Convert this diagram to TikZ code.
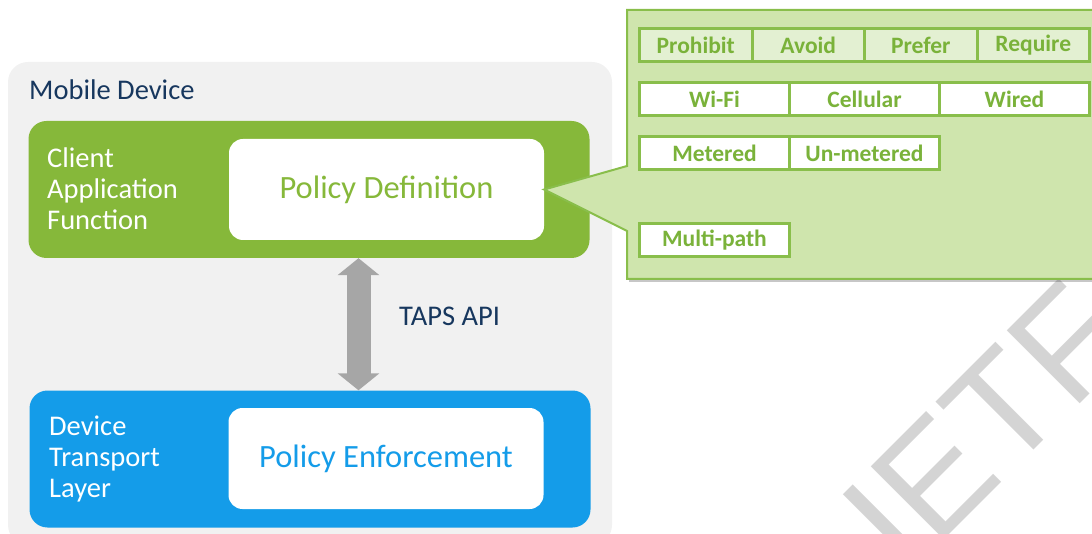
\documentclass[tikz,border=0pt]{standalone}
\usepackage{fontspec}
\usepackage{xcolor}
\usepackage{tikz}
\setmainfont{Carlito}
\newfontfamily\wmfont{Liberation Sans}
\usetikzlibrary{positioning,calc,arrows.meta}

\definecolor{bggray}{RGB}{241,241,241}
\definecolor{navy}{RGB}{23,55,94}
\definecolor{appgreen}{RGB}{134,184,58}
\definecolor{tpblue}{RGB}{20,156,233}
\definecolor{calloutfill}{RGB}{207,229,173}
\definecolor{calloutline}{RGB}{137,190,75}
\definecolor{cellfill}{RGB}{227,240,210}
\definecolor{celltext}{RGB}{122,178,58}
\definecolor{arrowgray}{RGB}{166,166,166}
\definecolor{wmgray}{RGB}{212,212,212}

\begin{document}
\begin{tikzpicture}[x=1pt,y=-1pt,
    layerbox/.style={rounded corners=18, minimum width=561, minimum height=137, inner sep=0},
    policybox/.style={fill=white, rounded corners=14, minimum width=315, minimum height=101, inner sep=0,
      font=\fontsize{32.5}{36}\selectfont},
    sidelabel/.style={anchor=west, align=left, text=white, inner sep=0,
      font=\fontsize{28.5}{31}\selectfont},
    cell/.style={draw=calloutline, line width=3, fill=white, minimum height=33, inner sep=0, outer sep=0,
      text=celltext, font=\fontsize{23.5}{26}\selectfont\bfseries},
    apiarrow/.style={draw=arrowgray, line width=24,
      {Triangle[width=41pt,length=17pt]}-{Triangle[width=41pt,length=17pt]}}]
  \clip (0,0) rectangle (1092,534);

  \node[text=wmgray, rotate=45, anchor=base west, inner sep=0,
    font=\wmfont\fontsize{150}{150}\selectfont] (ietf) at (906,578) {IETF};

  \fill[bggray, rounded corners=20] (8,62) rectangle (612,545);
  \node[anchor=west, inner sep=0, text=navy, font=\fontsize{28.5}{31}\selectfont]
    (device) at (29,90) {Mobile Device};

  \node[layerbox, fill=appgreen] (client) at (309,189.5) {};
  \node[policybox, text=appgreen] (pdef) at (386.5,189.5) {Policy Definition};
  \node[sidelabel] (clientlbl) at (47,189) {Client\\Application\\Function};

  \node[layerbox, fill=tpblue] (transport) at (310,459) {};
  \node[policybox, text=tpblue] (penf) at (386,458.5) {Policy Enforcement};
  \node[sidelabel] (transportlbl) at (49,459) {Device\\Transport\\Layer};

  \coordinate (arrx) at (358.5,323);
  \draw[apiarrow] (client.south -| arrx) -- (transport.north -| arrx);
  \node[anchor=west, inner sep=0, text=navy, font=\fontsize{28.5}{31}\selectfont]
    (api) at (399,316) {TAPS API};

  \fill[black, opacity=0.22] (629,13) rectangle (1100,282);
  \draw[calloutline, line width=2, fill=calloutfill, line join=miter]
    (627,10) -- (1100,10) -- (1100,279) -- (627,279) -- (627,231)
    -- (pdef.east) -- (627,166) -- cycle;

  \node[cell, fill=cellfill, minimum width=112.5, anchor=north west] (prohibit) at (639.5,28.5) {Prohibit};
  \node[cell, fill=cellfill, minimum width=112.5, right=0pt of prohibit] (avoid) {Avoid};
  \node[cell, fill=cellfill, minimum width=112.5, right=0pt of avoid] (prefer) {Prefer};
  \node[cell, fill=cellfill, minimum width=112.5, right=0pt of prefer] (require) {Require};

  \node[cell, minimum width=150, below right=21pt and 0pt of prohibit.south west] (wifi) {Wi-Fi};
  \node[cell, minimum width=150, right=0pt of wifi] (cellular) {Cellular};
  \node[cell, minimum width=150, right=0pt of cellular] (wired) {Wired};

  \node[cell, minimum width=150, below right=21pt and 0pt of wifi.south west] (metered) {Metered};
  \node[cell, minimum width=150, right=0pt of metered] (unmetered) {Un-metered};

  \node[cell, minimum width=150, below right=54pt and 0pt of metered.south west] (multipath) {Multi-path};
\end{tikzpicture}
\end{document}
